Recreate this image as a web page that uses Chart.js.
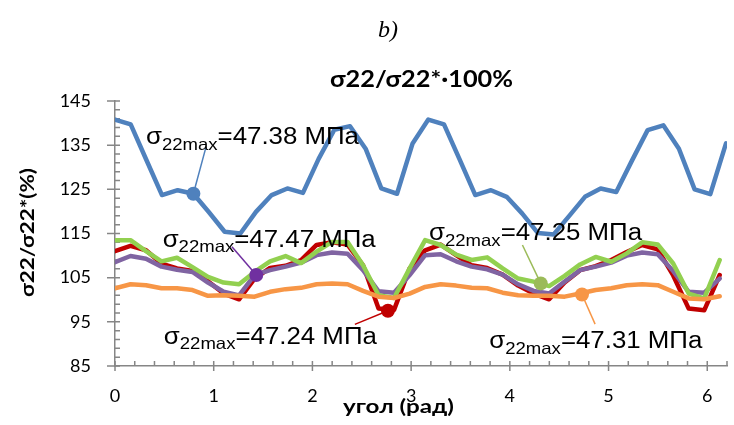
<!DOCTYPE html>
<html>
<head>
<meta charset="utf-8">
<script src="https://cdn.jsdelivr.net/npm/chart.js@4/dist/chart.umd.min.js"></script>
<style>
  html, body { margin: 0; padding: 0; background: #fff; overflow: hidden; }
  canvas { display: block; }
</style>
</head>
<body>
<canvas id="c" width="734" height="425"></canvas>
<script>
// angle (rad) of each computed point
const angleBlue = [0.000, 0.159, 0.317, 0.476, 0.635, 0.794, 0.952, 1.111, 1.270, 1.428,
                   1.587, 1.746, 1.904, 2.063, 2.222, 2.381, 2.539, 2.698, 2.857, 3.015,
                   3.174, 3.333, 3.491, 3.650, 3.809, 3.968, 4.126, 4.285, 4.444, 4.602,
                   4.761, 4.920, 5.078, 5.237, 5.396, 5.555, 5.713, 5.872, 6.031, 6.190];
const angle = [0.000, 0.157, 0.314, 0.471, 0.628, 0.785, 0.942, 1.100, 1.257, 1.414,
               1.571, 1.728, 1.885, 2.042, 2.199, 2.356, 2.513, 2.670, 2.827, 2.985,
               3.142, 3.299, 3.456, 3.613, 3.770, 3.927, 4.084, 4.241, 4.398, 4.555,
               4.712, 4.869, 5.027, 5.184, 5.341, 5.498, 5.655, 5.812, 5.969, 6.126];

// σ22/σ22*·100% for each case
const blue = [140.8, 139.7, 131.7, 123.7, 124.8, 124.0, 119.8, 115.4, 115.0, 119.9,
              123.7, 125.2, 124.2, 131.9, 138.5, 139.3, 134.2, 125.2, 124.0, 135.4,
              140.8, 139.7, 131.8, 123.7, 124.8, 123.3, 119.5, 115.1, 114.8, 119.0,
              123.3, 125.2, 124.4, 131.5, 138.4, 139.5, 134.2, 125.0, 123.9, 135.4];
const red = [111.0, 112.2, 111.2, 108.2, 107.1, 106.5, 104.2, 101.4, 100.1, 104.8,
             107.2, 107.7, 109.0, 112.4, 113.0, 112.5, 107.8, 98.0, 97.7, 107.1,
             111.2, 112.5, 110.1, 107.8, 107.2, 105.7, 103.2, 101.4, 100.1, 103.9,
             106.7, 107.6, 109.0, 110.8, 112.4, 111.4, 105.5, 98.0, 97.6, 105.6];
const purple = [108.5, 109.9, 109.3, 107.5, 106.8, 106.3, 103.9, 101.8, 101.0, 105.6,
                106.7, 107.5, 108.4, 110.1, 110.7, 110.4, 106.7, 101.9, 101.6, 105.6,
                110.1, 110.3, 108.7, 107.5, 106.9, 105.7, 103.5, 102.0, 101.4, 104.1,
                106.7, 107.5, 108.4, 110.0, 110.7, 110.3, 106.5, 101.8, 101.6, 104.8];
const green = [113.5, 113.5, 111.0, 108.7, 109.5, 107.4, 105.2, 103.9, 103.5, 106.3,
               108.7, 109.9, 108.3, 110.9, 113.1, 113.1, 107.8, 101.0, 100.4, 107.1,
               113.5, 112.4, 110.2, 109.0, 109.6, 107.1, 104.8, 104.1, 103.1, 105.4,
               108.0, 109.7, 108.6, 110.5, 113.0, 112.5, 108.2, 101.4, 100.3, 109.0];
const orange = [102.6, 103.5, 103.3, 102.6, 102.6, 102.2, 100.9, 101.0, 100.9, 100.7,
                101.8, 102.4, 102.7, 103.5, 103.7, 103.5, 102.0, 100.7, 100.4, 101.4,
                102.9, 103.5, 103.2, 102.7, 102.6, 101.6, 101.0, 100.9, 100.9, 100.7,
                101.4, 102.2, 102.6, 103.3, 103.5, 103.3, 101.8, 100.3, 100.1, 100.8];

// highlighted points, one per case, with the maximum stress σ22max (MPa)
const markAngle = [0.794, 1.431, 2.765, 4.313, 4.731];
const markValue = [124.0, 105.6, 97.5, 103.7, 101.2];
const maxStress = [47.38, 47.47, 47.24, 47.25, 47.31];

const xTickValues = [0, 1, 2, 3, 4, 5, 6];
const yTickValues = [85, 95, 105, 115, 125, 135, 145];

const lineColors = ['#4F81BD', '#C00000', '#8064A2', '#92D050', '#F79646'];
const markColors = ['#4F81BD', '#7030A0', '#C00000', '#9BBB59', '#F79646'];

// callout layout for each highlighted point: text start / baseline and leader end, px from the point
const callouts = [
  { tx: -47.4,  ty: -49.3, lx: 12.6,  ly: -46.6 },
  { tx: -93.6,  ty: -28.0, lx: -24.3, ly: -28.2 },
  { tx: -224.1, ty: 32.9,  lx: -33.1, ly: 13.6 },
  { tx: -111.7, ty: -43.2, lx: -18.3, ly: -38.4 },
  { tx: -92.7,  ty: 53.9,  lx: 13.1,  ly: 29.7 }
];

const pts = (xs, ys) => xs.map((v, i) => ({ x: v, y: ys[i] }));

function series(label, xs, ys, color) {
  return {
    label, data: pts(xs, ys), showLine: true,
    borderColor: color, backgroundColor: color, borderWidth: 4.5,
    borderJoinStyle: 'round', borderCapStyle: 'round',
    pointRadius: 0, pointHoverRadius: 0, tension: 0
  };
}

function stretched(ctx, str, x, y, font, sx) {
  ctx.save();
  ctx.font = font;
  ctx.translate(x, y);
  ctx.scale(sx, 1);
  ctx.textAlign = 'left';
  ctx.textBaseline = 'alphabetic';
  ctx.fillText(str, 0, 0);
  ctx.restore();
}

function fittedCentered(ctx, str, cx, y, font, width) {
  ctx.save();
  ctx.font = font;
  const w = ctx.measureText(str).width;
  const sx = width / w;
  stretched(ctx, str, cx - width / 2, y, font, sx);
  ctx.restore();
}

const decor = {
  id: 'decor',
  beforeDatasetsDraw(chart) {
    const { ctx, scales: { x, y }, chartArea: a } = chart;
    ctx.save();
    // tick marks: major ticks cross the axis, minor ticks point inward
    ctx.strokeStyle = '#868686';
    ctx.lineWidth = 1.5;
    ctx.beginPath();
    for (let k = 0; k <= 30; k++) {
      const v = 85 + k * 2;
      const py = y.getPixelForValue(v);
      const major = k % 5 === 0;
      ctx.moveTo(a.left - (major ? 8 : 0), py);
      ctx.lineTo(a.left + 5, py);
    }
    for (let k = 0; k <= 31; k++) {
      const px = x.getPixelForValue(k * 0.2);
      const major = k % 5 === 0;
      ctx.moveTo(px, a.bottom + (major ? 5 : 0));
      ctx.lineTo(px, a.bottom - 5);
    }
    ctx.stroke();

    // leader lines from callout text to highlighted points
    ctx.lineWidth = 1.5;
    markAngle.forEach((ang, i) => {
      const px = x.getPixelForValue(ang);
      const py = y.getPixelForValue(markValue[i]);
      const c = callouts[i];
      ctx.strokeStyle = markColors[i];
      ctx.beginPath();
      ctx.moveTo(px + c.lx, py + c.ly);
      ctx.lineTo(px, py);
      ctx.stroke();
    });
    ctx.restore();
  },
  afterDraw(chart) {
    const { ctx, scales: { x, y } } = chart;
    ctx.save();
    ctx.fillStyle = '#000';

    // callout texts σ22max = ... МПа
    const mainFont = '23px "Liberation Sans", Arial, sans-serif';
    const subFont = '16.5px "Liberation Sans", Arial, sans-serif';
    markAngle.forEach((ang, i) => {
      const px = x.getPixelForValue(ang);
      const py = y.getPixelForValue(markValue[i]);
      const c = callouts[i];
      const parts = [
        ['σ', mainFont, 0],
        ['22max', subFont, 5.3],
        ['=' + maxStress[i].toFixed(2) + ' МПа', mainFont, 0]
      ];
      let total = 0;
      parts.forEach(p => { ctx.font = p[1]; p.push(ctx.measureText(p[0]).width); total += p[3]; });
      const sx = 213 / total;
      let cx = px + c.tx;
      const base = py + c.ty;
      parts.forEach(p => {
        stretched(ctx, p[0], cx, base + p[2], p[1], sx);
        cx += p[3] * sx;
      });
    });

    // panel letter and chart title
    ctx.font = 'italic 24px "Liberation Serif", "Times New Roman", serif';
    ctx.textAlign = 'center';
    ctx.textBaseline = 'alphabetic';
    ctx.fillText('b)', 388, 37);
    fittedCentered(ctx, 'σ22/σ22*·100%', 421.5, 87, 'bold 23px Lato, "Open Sans", sans-serif', 183);

    // axis titles
    fittedCentered(ctx, 'угол (рад)', 398.5, 413, 'bold 19px Lato, "Open Sans", sans-serif', 111);
    ctx.save();
    ctx.translate(33.5, 232.5);
    ctx.rotate(-Math.PI / 2);
    fittedCentered(ctx, 'σ22/σ22*(%)', 0, 0, 'bold 18px Lato, "Open Sans", sans-serif', 129);
    ctx.restore();

    ctx.restore();
  }
};

new Chart(document.getElementById('c'), {
  type: 'scatter',
  data: {
    datasets: [
      {
        label: 'σ22max', data: pts(markAngle, markValue), showLine: false,
        pointRadius: 7, pointHoverRadius: 7, pointBorderWidth: 0,
        pointBackgroundColor: markColors, pointBorderColor: markColors
      },
      series('5', angle, orange, lineColors[4]),
      series('4', angle, green, lineColors[3]),
      series('3', angle, purple, lineColors[2]),
      series('2', angle, red, lineColors[1]),
      series('1', angleBlue, blue, lineColors[0])
    ]
  },
  options: {
    responsive: false,
    animation: false,
    events: [],
    layout: { padding: { top: 101, right: 1, left: 0, bottom: 0 } },
    plugins: { legend: { display: false }, tooltip: { enabled: false }, title: { display: false } },
    scales: {
      x: {
        type: 'linear', min: 0, max: 6.2,
        afterBuildTicks: s => { s.ticks = xTickValues.map(v => ({ value: v })); },
        afterFit: s => { s.height = 59; },
        ticks: { color: '#000', padding: 19, maxRotation: 0, autoSkip: false,
                 font: { family: 'Lato, "Open Sans", sans-serif', size: 18 } },
        grid: { display: false, drawTicks: false },
        border: { display: true, color: '#868686', width: 1.5 }
      },
      y: {
        type: 'linear', min: 85, max: 145,
        afterBuildTicks: s => { s.ticks = yTickValues.map(v => ({ value: v })); },
        afterFit: s => { s.width = 115; },
        ticks: { color: '#000', padding: 24, autoSkip: false,
                 font: { family: 'Lato, "Open Sans", sans-serif', size: 18 } },
        grid: { display: false, drawTicks: false },
        border: { display: true, color: '#868686', width: 1.5 }
      }
    }
  },
  plugins: [decor]
});
</script>
</body>
</html>
